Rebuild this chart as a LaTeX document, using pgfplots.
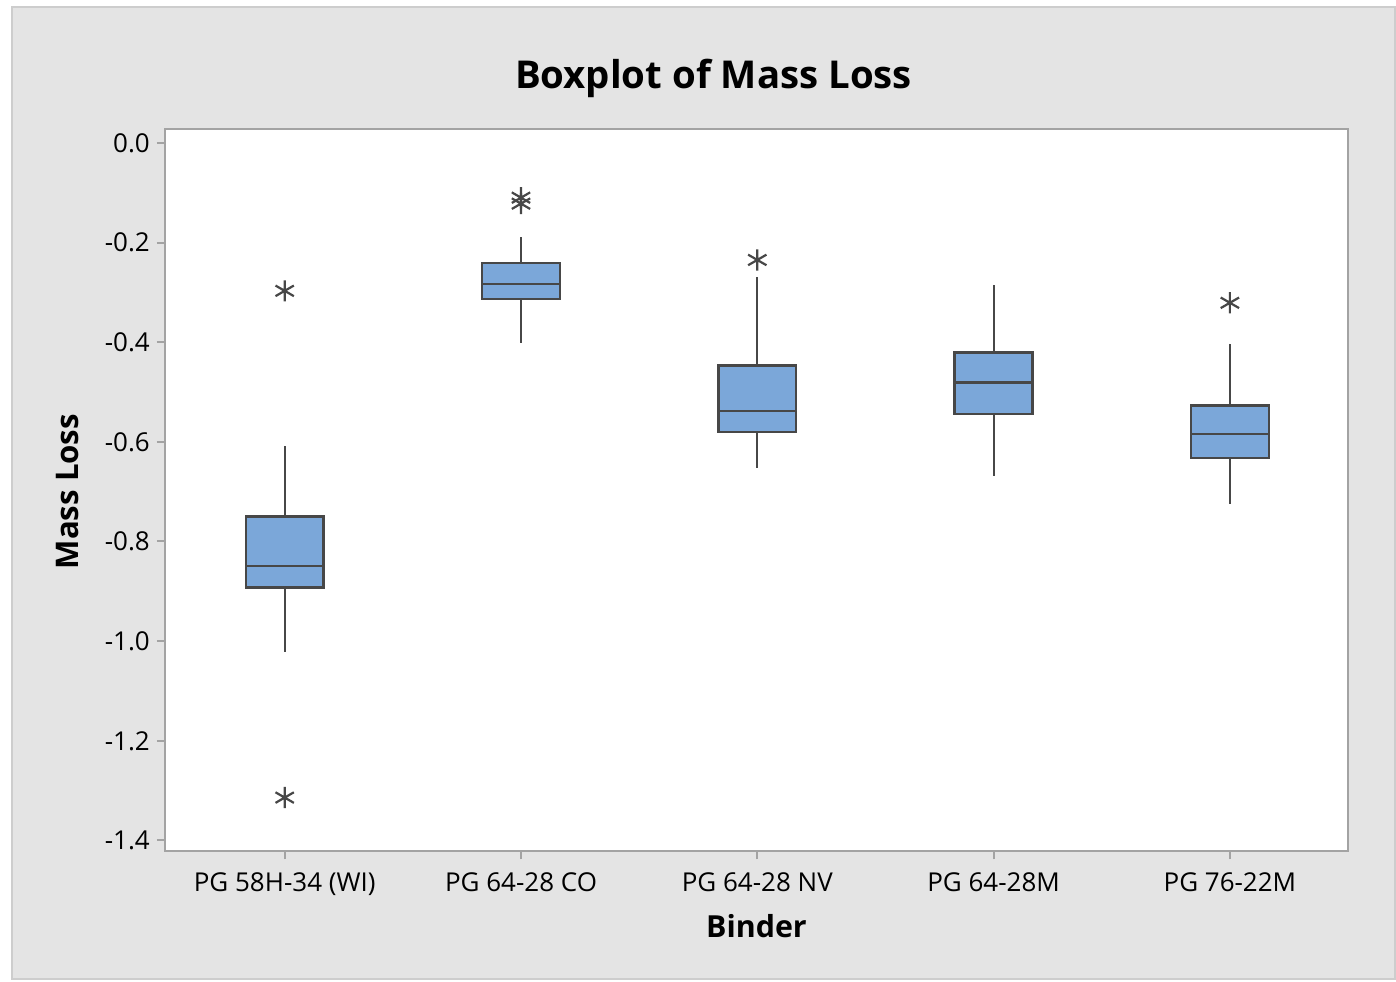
\documentclass[border=0pt]{standalone}
\usepackage{fontspec}
\setmainfont{Open Sans}
\usepackage{pgfplots}
\pgfplotsset{compat=1.18}
\usepgfplotslibrary{statistics}
\definecolor{boxblue}{HTML}{7BA7D9}
\definecolor{boxline}{HTML}{474747}
\definecolor{framegrey}{HTML}{A3A3A3}
\definecolor{bggrey}{HTML}{E4E4E4}
\definecolor{edgegrey}{HTML}{CDCDCD}

\begin{document}
\begin{tikzpicture}
% page and grey panel (pixel units, origin bottom left)
\begin{scope}[x=0.5pt,y=0.5pt]
\fill[white] (0,0) rectangle (1396,982);
\filldraw[fill=bggrey,draw=edgegrey,line width=1pt] (12,2) rectangle (1396,975);
\fill[white] (165,130) rectangle (1349,853);
\end{scope}

\begin{axis}[
  at={(82.5pt,65pt)}, anchor=south west,
  scale only axis, width=592pt, height=361.5pt,
  xmin=0.493, xmax=5.5, ymin=-1.422, ymax=0.028,
  axis line style={framegrey,line width=1pt},
  tick style={framegrey,line width=1pt},
  tick align=outside, major tick length=4pt,
  xtick={1,2,3,4,5},
  xticklabels={PG 58H-34 (WI),PG 64-28 CO,PG 64-28 NV,PG 64-28M,PG 76-22M},
  ytick={-1.4,-1.2,-1.0,-0.8,-0.6,-0.4,-0.2,0.0},
  yticklabels={-1.4,-1.2,-1.0,-0.8,-0.6,-0.4,-0.2,0.0},
  xticklabel style={font=\fontsize{13}{15}\selectfont, yshift=-3pt},
  yticklabel style={font=\fontsize{13}{15}\selectfont},
  xtick pos=bottom, ytick pos=left,
  boxplot/draw direction=y,
  boxplot/box extend=0.33,
  boxplot/whisker extend=0,
  every boxplot/.style={fill=boxblue,draw=boxline,line width=1.2pt},
  boxplot/every whisker/.style={draw=boxline,line width=1pt},
  boxplot/every median/.style={draw=boxline,line width=1.1pt},
  clip=false,
]
\addplot[boxplot prepared={draw position=1,
    lower whisker=-1.021, lower quartile=-0.892, median=-0.850,
    upper quartile=-0.750, upper whisker=-0.608},
  mark=asterisk, mark size=5.3pt,
  mark options={draw=boxline,line width=1.1pt,fill=none}]
  coordinates {(0,-0.297) (0,-1.314)};
\addplot[boxplot prepared={draw position=2,
    lower whisker=-0.401, lower quartile=-0.313, median=-0.283,
    upper quartile=-0.241, upper whisker=-0.189},
  mark=asterisk, mark size=5.3pt,
  mark options={draw=boxline,line width=1.1pt,fill=none}]
  coordinates {(0,-0.110) (0,-0.122)};
\addplot[boxplot prepared={draw position=3,
    lower whisker=-0.652, lower quartile=-0.580, median=-0.538,
    upper quartile=-0.447, upper whisker=-0.269},
  mark=asterisk, mark size=5.3pt,
  mark options={draw=boxline,line width=1.1pt,fill=none}]
  coordinates {(0,-0.235)};
\addplot[boxplot prepared={draw position=4,
    lower whisker=-0.668, lower quartile=-0.544, median=-0.481,
    upper quartile=-0.421, upper whisker=-0.285}]
  coordinates {};
\addplot[boxplot prepared={draw position=5,
    lower whisker=-0.724, lower quartile=-0.632, median=-0.584,
    upper quartile=-0.527, upper whisker=-0.403},
  mark=asterisk, mark size=5.3pt,
  mark options={draw=boxline,line width=1.1pt,fill=none}]
  coordinates {(0,-0.321)};
\end{axis}

\begin{scope}[x=0.5pt,y=0.5pt]
\node[font=\bfseries\fontsize{19.2}{23}\selectfont] at (714,904) {Boxplot of Mass Loss};
\node[font=\bfseries\fontsize{15.2}{18}\selectfont] at (757,55) {Binder};
\node[font=\bfseries\fontsize{15.6}{19}\selectfont,rotate=90] at (68,490) {Mass Loss};
\end{scope}
\end{tikzpicture}
\end{document}
